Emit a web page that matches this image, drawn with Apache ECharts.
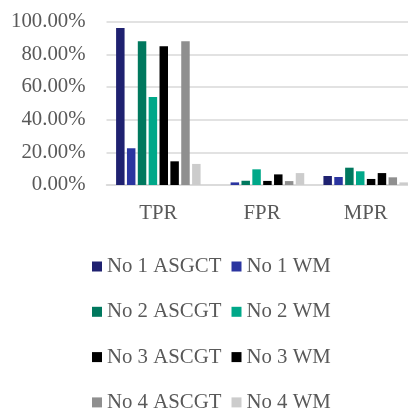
<!DOCTYPE html>
<html><head><meta charset="utf-8">
<script src="https://cdn.jsdelivr.net/npm/echarts@6/dist/echarts.min.js"></script>
<style>html,body{margin:0;padding:0;background:#fff}#c{width:408px;height:413px}</style>
</head><body><div id="c"></div>
<script>
const categories = ['TPR', 'FPR', 'MPR'];
const seriesNames = ['No 1 ASGCT', 'No 1 WM', 'No 2 ASCGT', 'No 2 WM', 'No 3 ASCGT', 'No 3 WM', 'No 4 ASCGT', 'No 4 WM'];
const no1Asgct = [96.1, 0, 5.5];
const no1Wm = [22.5, 1.6, 4.9];
const no2Ascgt = [88.0, 2.6, 10.6];
const no2Wm = [53.9, 9.6, 8.4];
const no3Ascgt = [84.9, 2.5, 3.7];
const no3Wm = [14.5, 6.5, 7.3];
const no4Ascgt = [88.0, 2.4, 4.7];
const no4Wm = [12.9, 7.3, 1.6];
const seriesValues = [no1Asgct, no1Wm, no2Ascgt, no2Wm, no3Ascgt, no3Wm, no4Ascgt, no4Wm];
const colors = ['#1f2170', '#2b35a0', '#00785e', '#00a889', '#000000', '#000000', '#8f8f8f', '#cccccc'];

const font = 'Liberation Serif, Times New Roman, serif';
const txt = '#595959';
const fs = 20.8;
const chart = echarts.init(document.getElementById('c'));
const legendCommon = {
  orient: 'vertical', itemWidth: 10, itemHeight: 10, itemGap: 24.3, padding: 0, height: 200,
  icon: 'rect', textStyle: {fontFamily: font, fontSize: fs, color: txt, lineHeight: 20},
  selectedMode: false
};
chart.setOption({
  animation: false,
  color: colors,
  grid: {left: 106.5, top: 21.7, bottom: 228, width: 311, containLabel: false, outerBoundsMode: 'none'},
  legend: [
    Object.assign({left: 92, top: 256, data: [seriesNames[0], seriesNames[2], seriesNames[4], seriesNames[6]]}, legendCommon),
    Object.assign({left: 231.5, top: 256, data: [seriesNames[1], seriesNames[3], seriesNames[5], seriesNames[7]]}, legendCommon)
  ],
  xAxis: {
    type: 'category', data: categories,
    axisLine: {lineStyle: {color: '#d9d9d9', width: 1.5}},
    axisTick: {show: false},
    axisLabel: {fontFamily: font, fontSize: fs, color: txt, margin: 18}
  },
  yAxis: {
    type: 'value', min: 0, max: 100, interval: 20,
    axisLine: {show: false}, axisTick: {show: false},
    splitLine: {lineStyle: {color: '#d9d9d9', width: 1.5}},
    axisLabel: {fontFamily: font, fontSize: fs, color: txt, margin: 21,
      formatter: v => v.toFixed(2) + '%'}
  },
  series: seriesNames.map((n, i) => ({
    name: n, type: 'bar', data: seriesValues[i],
    barGap: '28%', barCategoryGap: '18.5%',
    itemStyle: {color: colors[i]}
  }))
});
</script></body></html>
